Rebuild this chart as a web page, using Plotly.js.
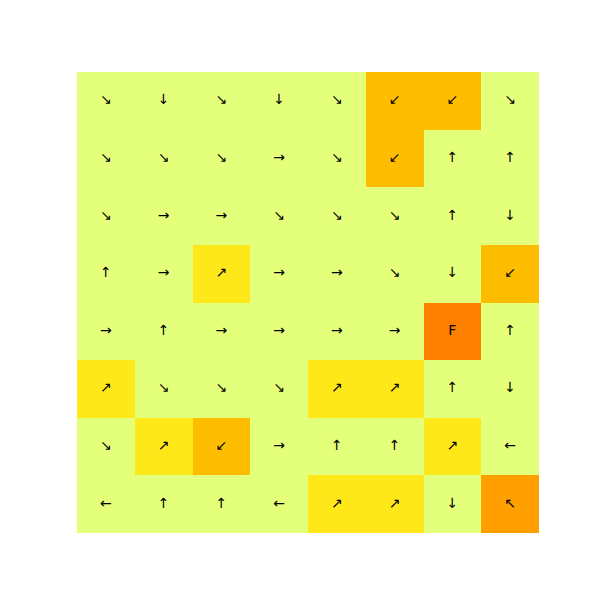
<!DOCTYPE html>
<html><head><meta charset="utf-8">
<script src="https://cdn.plot.ly/plotly-3.0.1.min.js"></script>
<style>html,body{margin:0;padding:0;background:#fff}</style>
</head><body>
<div id="chart" style="width:600px;height:600px"></div>
<script>
const cols = [0,1,2,3,4,5,6,7];
const rows = [0,1,2,3,4,5,6,7];
const values = [
  [0,0,0,0,0,2,2,0],
  [0,0,0,0,0,2,0,0],
  [0,0,0,0,0,0,0,0],
  [0,0,1,0,0,0,0,2],
  [0,0,0,0,0,0,4,0],
  [1,0,0,0,1,1,0,0],
  [0,1,2,0,0,0,1,0],
  [0,0,0,0,1,1,0,3]
];
const labels = [
  ['↘','↓','↘','↓','↘','↙','↙','↘'],
  ['↘','↘','↘','→','↘','↙','↑','↑'],
  ['↘','→','→','↘','↘','↘','↑','↓'],
  ['↑','→','↗','→','→','↘','↓','↙'],
  ['→','↑','→','→','→','→','F','↑'],
  ['↗','↘','↘','↘','↗','↗','↑','↓'],
  ['↘','↗','↙','→','↑','↑','↗','←'],
  ['←','↑','↑','←','↗','↗','↓','↖']
];
const wistia = [[0,'#e4ff7a'],[0.25,'#ffe81a'],[0.5,'#ffbd00'],[0.75,'#ffa000'],[1,'#fc7f00']];
const tx = [], ty = [], tt = [];
rows.forEach(r => cols.forEach(c => { tx.push(cols[c]); ty.push(rows[r]); tt.push(labels[r][c]); }));
Plotly.newPlot('chart', [{
  type:'heatmap', x:cols, y:rows, z:values,
  colorscale:wistia, zmin:0, zmax:4, showscale:false, hoverinfo:'none'
},{
  type:'scatter', mode:'text', x:tx, y:ty, text:tt, textposition:'middle center',
  textfont:{family:'DejaVu Sans', size:14, color:'#000000'}, hoverinfo:'none'
}], {
  width:600, height:600, margin:{l:77, r:61, t:72, b:67},
  paper_bgcolor:'#fff', plot_bgcolor:'#fff',
  xaxis:{visible:false, range:[-0.5,7.5]},
  yaxis:{visible:false, range:[7.5,-0.5]},
  showlegend:false
}, {staticPlot:true});
</script>
</body></html>
